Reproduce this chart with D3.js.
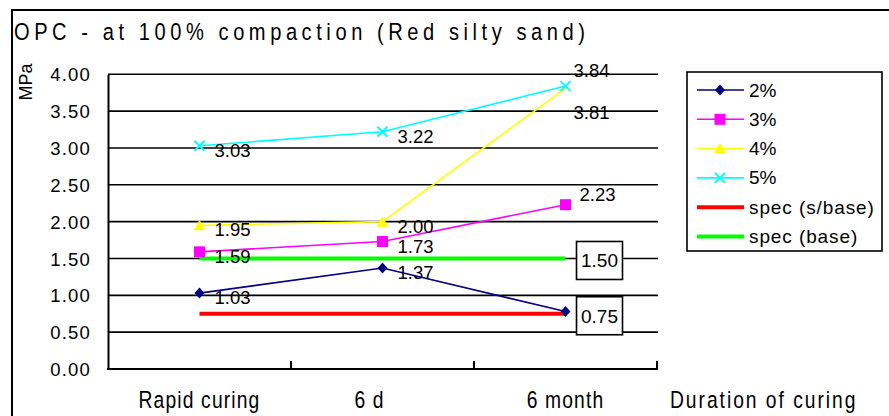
<!DOCTYPE html>
<html><head><meta charset="utf-8">
<script src="https://cdn.jsdelivr.net/npm/d3@7"></script>
<style>
body{margin:0;background:#fff}
svg{display:block}
text{font-family:"Liberation Sans",Arial,sans-serif;fill:#000}
</style>
</head><body>
<script>
// Chart data
const categories = ["Rapid curing", "6 d", "6 month"];
const seriesNames = ["2%", "3%", "4%", "5%"];
const values2 = [1.03, 1.37, 0.78];
const values3 = [1.59, 1.73, 2.23];
const values4 = [1.95, 2.00, 3.81];
const values5 = [3.03, 3.22, 3.84];
const specNames = ["spec (s/base)", "spec (base)"];
const specValues = [0.75, 1.50];
const yTickValues = [0, 0.5, 1, 1.5, 2, 2.5, 3, 3.5, 4];
const titleText = "OPC - at 100% compaction (Red silty sand)";
const yAxisTitle = "MPa";
const xAxisTitle = "Duration of curing";

const W = 889, H = 416;
const svg = d3.select("body").append("svg").attr("width", W).attr("height", H);

// Outer chart frame (runs off the right and bottom edges)
svg.append("rect").attr("x", 12).attr("y", 10).attr("width", 900).attr("height", 500)
  .attr("fill", "none").attr("stroke", "#000").attr("stroke-width", 2);

// Title in a condensed, letter-spaced face
svg.append("text")
  .attr("transform", "translate(14,39.5) scale(0.82,1)")
  .attr("font-size", 24.5)
  .attr("textLength", 571 / 0.82).attr("lengthAdjust", "spacing")
  .text(titleText);

const plot = {left: 108, right: 657, top: 74.3, bottom: 369};
const x = d3.scaleBand().domain(categories).range([plot.left, plot.right]).padding(0);
const xc = c => x(c) + x.bandwidth() / 2;
const y = d3.scaleLinear().domain([0, 4]).range([plot.bottom, plot.top]);

// Horizontal gridlines
svg.append("g").selectAll("line").data(yTickValues.filter(v => v > 0)).join("line")
  .attr("x1", plot.left).attr("x2", plot.right + 1)
  .attr("y1", d => y(d)).attr("y2", d => y(d))
  .attr("stroke", "#000").attr("stroke-width", 1.6);

// Y axis with labels
const yAxis = svg.append("g").attr("transform", `translate(${plot.left},0)`)
  .call(d3.axisLeft(y).tickValues(yTickValues).tickFormat(d3.format(".2f")).tickSize(0).tickPadding(17));
yAxis.select(".domain").attr("stroke", "#000").attr("stroke-width", 2);
yAxis.selectAll("text").attr("font-size", 18.5).attr("letter-spacing", "1.2px")
  .attr("font-family", "Liberation Sans, Arial, sans-serif").attr("dy", "0.36em");

// X axis: baseline plus inward ticks at category boundaries
svg.append("line").attr("x1", plot.left - 1).attr("x2", plot.right + 1)
  .attr("y1", plot.bottom).attr("y2", plot.bottom).attr("stroke", "#000").attr("stroke-width", 2);
svg.append("g").selectAll("line").data(categories).join("line")
  .attr("x1", d => x(d) + x.bandwidth()).attr("x2", d => x(d) + x.bandwidth())
  .attr("y1", plot.bottom).attr("y2", plot.bottom - 8)
  .attr("stroke", "#000").attr("stroke-width", 2);

// Category labels
const catShift = {"6 d": -13};
svg.append("g").selectAll("text").data(categories).join("text")
  .attr("transform", d => `translate(${xc(d) + (catShift[d] || 0)},408) scale(0.82,1)`)
  .attr("text-anchor", "middle").attr("font-size", 23.5).attr("letter-spacing", "1.4px")
  .text(d => d);
svg.append("text")
  .attr("transform", "translate(670,408) scale(0.82,1)")
  .attr("font-size", 23.5).attr("letter-spacing", "2.4px")
  .text(xAxisTitle);

// Y axis title
svg.append("text")
  .attr("transform", "translate(32,82) rotate(-90)")
  .attr("text-anchor", "middle").attr("font-size", 18)
  .text(yAxisTitle);

// Marker shapes
const markers = {
  diamond: (g, col) => g.append("path").attr("d", "M0,-5.5L5,0L0,5.5L-5,0Z").attr("fill", col),
  square: (g, col) => g.append("rect").attr("x", -5.5).attr("y", -5.5).attr("width", 11).attr("height", 11).attr("fill", col),
  triangle: (g, col) => g.append("path").attr("d", "M0,-5.5L5.8,5L-5.8,5Z").attr("fill", col),
  cross: (g, col) => g.append("path").attr("d", "M-5,-5L5,5M-5,5L5,-5").attr("stroke", col).attr("stroke-width", 2).attr("fill", "none")
};

const series = [
  {name: seriesNames[0], values: values2, color: "#000080", marker: "diamond"},
  {name: seriesNames[1], values: values3, color: "#FF00FF", marker: "square"},
  {name: seriesNames[2], values: values4, color: "#FFFF00", marker: "triangle"},
  {name: seriesNames[3], values: values5, color: "#00FFFF", marker: "cross"}
];
const specs = [
  {name: specNames[0], value: specValues[0], color: "#FF0000"},
  {name: specNames[1], value: specValues[1], color: "#00FF00"}
];

// Spec lines
specs.forEach(s => {
  svg.append("line")
    .attr("x1", xc(categories[0])).attr("x2", xc(categories[categories.length - 1]))
    .attr("y1", y(s.value)).attr("y2", y(s.value))
    .attr("stroke", s.color).attr("stroke-width", 4);
});

const line = d3.line().x((d, i) => xc(categories[i])).y(d => y(d));

// Series lines and markers
series.forEach(s => {
  svg.append("path").attr("d", line(s.values)).attr("fill", "none")
    .attr("stroke", s.color).attr("stroke-width", 1.6);
});
series.forEach(s => {
  s.values.forEach((v, i) => {
    // the 4% end point sits under the 5% cross and is not shown
    if (s.name === "4%" && i === 2) return;
    const g = svg.append("g").attr("transform", `translate(${xc(categories[i])},${y(v)})`);
    markers[s.marker](g, s.color);
  });
});

// Data labels
const labelOffset = (s, i) => {
  if (i === 2 && s.name === "5%") return [8, -9];
  if (i === 2 && s.name === "4%") return [8, 31];
  if (i === 2 && s.name === "3%") return [14, -4];
  return [15, 11];
};
series.forEach(s => {
  s.values.forEach((v, i) => {
    const [dx, dy] = labelOffset(s, i);
    svg.append("text")
      .attr("x", xc(categories[i]) + dx).attr("y", y(v) + dy)
      .attr("font-size", 18.5).text(d3.format(".2f")(v));
  });
});

// Boxed spec value labels
specs.forEach(s => {
  const cx = xc(categories[categories.length - 1]) + 34, cy = y(s.value) + 2;
  svg.append("rect").attr("x", cx - 23).attr("y", cy - 19).attr("width", 46).attr("height", 38)
    .attr("fill", "#fff").attr("stroke", "#000").attr("stroke-width", 1.6);
  svg.append("text").attr("x", cx).attr("y", cy + 7).attr("text-anchor", "middle")
    .attr("font-size", 19).text(d3.format(".2f")(s.value));
});

// Legend
const lg = svg.append("g");
lg.append("rect").attr("x", 687).attr("y", 72).attr("width", 195).attr("height", 179)
  .attr("fill", "#fff").attr("stroke", "#000").attr("stroke-width", 1.6);
const legendItems = series.map(s => ({name: s.name, color: s.color, marker: s.marker, w: 1.6}))
  .concat(specs.map(s => ({name: s.name, color: s.color, marker: null, w: 4})));
legendItems.forEach((it, k) => {
  const ry = 90 + k * 29.3;
  lg.append("line").attr("x1", 697).attr("x2", 744).attr("y1", ry).attr("y2", ry)
    .attr("stroke", it.color).attr("stroke-width", it.w);
  if (it.marker) markers[it.marker](lg.append("g").attr("transform", `translate(720,${ry})`), it.color);
  lg.append("text").attr("x", 749).attr("y", ry + 6.5).attr("font-size", 19)
    .attr("letter-spacing", it.marker ? "0px" : "0.9px").text(it.name);
});
</script>
</body></html>
